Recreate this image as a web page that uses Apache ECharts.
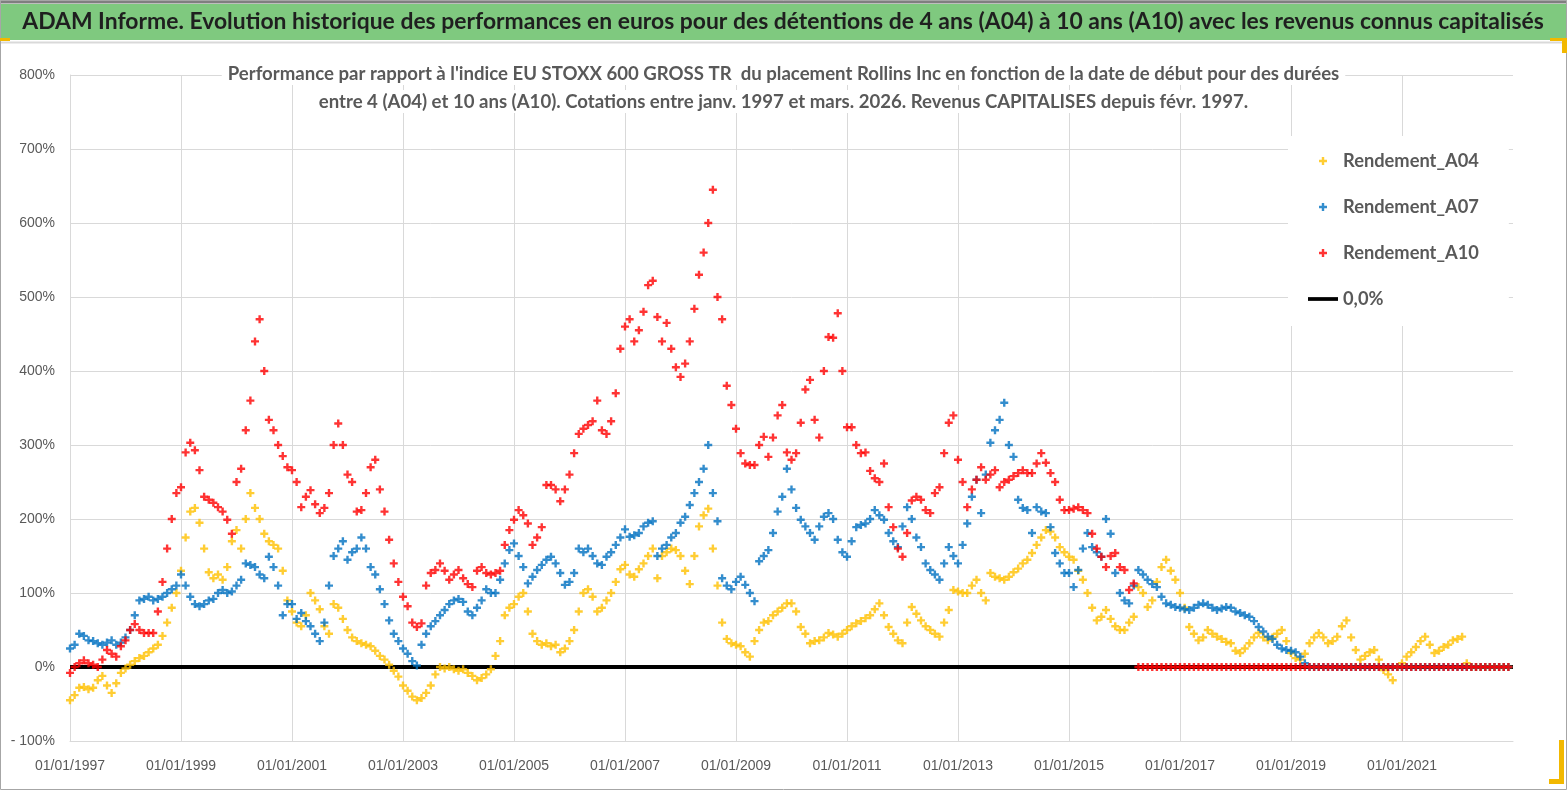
<!DOCTYPE html>
<html><head><meta charset="utf-8">
<script src="https://cdn.jsdelivr.net/npm/echarts@6/dist/echarts.min.js"></script>
<style>html,body{margin:0;padding:0;background:#fff}#c{width:1567px;height:790px}</style>
</head><body><div id="c"></div>
<script>
// Monthly values (%), first value = January 1997, last = December 2022
const startYear = 1997;
const a04 = [
 -45,-38,-28,-27,-30,-28,-18,-12,-25,-35,-22,-8,
 -2,3,8,12,15,20,25,30,42,60,80,100,
 130,175,210,215,195,160,128,120,125,118,135,170,
 185,160,200,235,215,200,180,170,165,160,130,90,
 75,60,55,70,100,90,78,55,45,85,80,65,
 50,40,35,32,30,28,22,15,10,3,-5,-13,
 -25,-32,-40,-45,-42,-35,-25,-10,0,-2,0,-3,
 -5,-3,-8,-12,-18,-15,-10,-3,15,35,70,80,
 85,95,100,75,45,35,30,32,28,30,20,25,
 35,50,75,100,105,95,75,80,90,100,115,132,
 138,125,122,132,140,150,160,120,150,155,160,158,
 150,130,112,150,190,205,214,160,110,60,38,32,
 30,28,20,14,35,50,60,62,70,75,80,86,
 86,75,54,45,32,35,36,40,46,44,41,45,
 50,55,59,62,66,70,78,86,70,54,45,36,
 32,60,81,72,63,55,50,45,41,60,77,104,
 102,100,100,110,118,100,90,127,122,120,118,122,
 128,133,140,145,154,165,175,185,183,175,162,155,
 149,145,130,118,100,80,63,68,77,65,55,50,
 50,60,68,108,100,81,90,115,135,145,130,118,
 100,80,54,45,36,40,50,45,41,38,34,32,
 22,19,25,32,40,46,40,36,40,45,50,35,
 19,12,10,18,32,40,46,40,32,35,41,55,
 63,40,23,10,15,20,23,10,-4,-10,-18,0,
 5,14,20,27,35,41,30,19,22,27,30,36,
 38,41,5,0,0,0,0,0,0,0,0,0
];
const a07 = [
 25,30,45,42,36,35,32,30,33,36,30,33,
 40,50,70,90,92,95,90,92,95,100,105,110,
 125,110,95,85,82,85,90,92,100,104,100,102,
 110,118,140,138,135,125,120,149,135,110,70,85,
 85,65,73,62,55,45,35,60,110,150,160,170,
 145,155,160,175,160,135,125,105,85,63,45,35,
 25,18,8,2,30,45,55,62,70,77,85,90,
 92,88,75,70,80,90,105,100,100,118,140,158,
 167,150,135,113,122,131,138,145,149,140,127,111,
 115,127,160,155,160,150,140,138,149,155,165,175,
 186,176,178,181,190,195,197,150,160,165,175,181,
 195,203,219,235,250,268,300,235,197,120,110,105,
 115,122,111,100,89,143,150,158,181,210,230,268,
 240,215,199,190,181,172,190,203,208,200,172,155,
 149,170,189,192,194,200,212,205,199,181,170,162,
 190,216,200,175,162,140,131,125,118,140,162,150,
 140,165,194,230,253,208,260,303,320,334,357,300,
 284,226,215,212,181,216,210,208,189,154,140,127,
 127,108,131,160,181,162,155,149,200,180,127,100,
 90,86,110,131,125,118,112,108,95,86,84,81,
 80,78,77,80,84,86,84,80,77,79,81,80,
 75,73,70,68,62,54,48,41,38,30,25,23,
 22,20,14,5,0,0,0,0,0,0,0,0,
 0,0,0,0,0,0,0,0,0,0,0,0,
 0,0,0,0,0,0,0,0,0,0,0,0,
 0,0,0,0,0,0,0,0,0,0,0,0
];
const a10 = [
 -8,0,5,9,5,3,0,10,23,18,14,28,
 36,50,58,50,46,46,46,75,115,160,200,235,
 243,290,303,293,266,230,226,222,216,210,199,180,
 250,268,320,360,440,470,400,334,320,300,285,270,
 266,250,216,230,239,220,208,215,235,300,329,300,
 260,250,210,212,235,270,280,240,210,172,140,115,
 95,82,60,54,59,110,127,131,140,130,118,125,
 131,120,112,108,130,135,127,125,127,130,165,185,
 199,212,205,194,165,175,189,246,246,240,224,240,
 260,289,315,322,327,332,360,320,315,332,370,430,
 460,470,440,455,480,516,522,473,440,465,430,405,
 392,410,440,484,530,560,600,645,500,470,380,354,
 322,289,275,273,273,300,311,284,310,340,354,290,
 280,289,330,375,388,334,310,400,446,445,478,400,
 324,324,300,289,290,265,255,250,275,216,189,160,
 149,181,225,230,226,212,208,235,243,289,330,340,
 280,250,216,240,253,270,253,260,266,243,250,253,
 258,262,266,262,262,275,289,276,262,250,226,212,
 212,214,216,212,208,180,160,149,135,150,154,135,
 131,104,113,0,0,0,0,0,0,0,0,0,
 0,0,0,0,0,0,0,0,0,0,0,0,
 0,0,0,0,0,0,0,0,0,0,0,0,
 0,0,0,0,0,0,0,0,0,0,0,0,
 0,0,0,0,0,0,0,0,0,0,0,0,
 0,0,0,0,0,0,0,0,0,0,0,0,
 0,0,0,0,0,0,0,0,0,0,0,0
];
const zeroLine = [[0,0],[312,0]];
const seriesNames = ['Rendement_A04','Rendement_A07','Rendement_A10','0,0%'];
const mainTitle = "ADAM Informe. Evolution historique des performances en euros pour des détentions de 4 ans (A04) à 10 ans (A10) avec les revenus connus capitalisés";
const subLine1 = "Performance par rapport à l'indice EU STOXX 600 GROSS TR  du placement Rollins Inc en fonction de la date de début pour des durées";
const subLine2 = "entre 4 (A04) et 10 ans (A10). Cotations entre janv. 1997 et mars. 2026. Revenus CAPITALISES depuis févr. 1997.";

const FAM = 'Lato, "Open Sans", "Liberation Sans", sans-serif';
const ctx = document.createElement('canvas').getContext('2d');
function fit(text, weight, target){
  ctx.font = weight + ' 100px ' + FAM;
  return Math.round(100 * target / ctx.measureText(text).width * 10) / 10;
}
const titleSize = fit(mainTitle, 'bold', 1522);
const subSize = fit(subLine1, 'bold', 1112);
const legSize = fit('Rendement_A04', 'bold', 136);

const PLUS = 'path://M2.8,0H5.2V2.8H8V5.2H5.2V8H2.8V5.2H0V2.8H2.8Z';
const pts = arr => arr.map((v,i)=>[i,v]);
const subStyle = {fontFamily:FAM, fontSize:subSize, fontWeight:'bold', color:'#595959'};

const chart = echarts.init(document.getElementById('c'));
chart.setOption({
  animation:false,
  backgroundColor:'#fff',
  title:[
    {text: subLine1, left:'center', top:62, padding:[2,6], backgroundColor:'#fff', textStyle:subStyle},
    {text: subLine2, left:'center', top:90, padding:[2,6], backgroundColor:'#fff', textStyle:subStyle}
  ],
  legend:{
    orient:'vertical', left:1288, top:136, itemGap:28, itemWidth:30, itemHeight:8,
    padding:[16,30,18,20], backgroundColor:'#fff',
    data: [
      {name:'Rendement_A04'},{name:'Rendement_A07'},{name:'Rendement_A10'},
      {name:'0,0%', icon:'path://M0,0H32V4H0Z'}
    ],
    textStyle:{fontFamily:FAM, fontSize:legSize, fontWeight:'bold', color:'#595959'}
  },
  grid:{left:70,right:54,top:75,bottom:49},
  xAxis:{
    type:'value', min:0, max:312, interval:24,
    axisLine:{onZero:false, lineStyle:{color:'#d9d9d9'}},
    axisTick:{show:false},
    splitLine:{show:true, showMaxLine:false, lineStyle:{color:'#d9d9d9', width:1}},
    axisLabel:{showMaxLabel:false, margin:18, fontFamily:'"Liberation Sans", Arial, sans-serif', fontSize:14, color:'#595959',
      formatter: v => (v % 24 === 0 && v < 312) ? '01/01/' + (startYear + v/12) : ''}
  },
  yAxis:{
    type:'value', min:-100, max:800, interval:100,
    axisLine:{show:true, lineStyle:{color:'#d9d9d9'}},
    axisTick:{show:false},
    splitLine:{show:true, lineStyle:{color:'#d9d9d9', width:1}},
    axisLabel:{margin:15, fontFamily:'"Liberation Sans", Arial, sans-serif', fontSize:14, color:'#595959',
      formatter: v => (v < 0 ? '- ' + Math.abs(v) : v) + '%'}
  },
  graphic:[
    {type:'rect', shape:{x:0,y:4,width:1567,height:36}, style:{fill:'#7fc97f'}},
    {type:'line', shape:{x1:0,y1:2,x2:1567,y2:2}, style:{stroke:'#7f7f7f', lineWidth:3}},
    {type:'line', shape:{x1:0,y1:42.5,x2:1567,y2:42.5}, style:{stroke:'#d9d9d9', lineWidth:2}},
    {type:'rect', shape:{x:0.5,y:0.5,width:1566,height:789}, style:{fill:'none', stroke:'#a6a6a6', lineWidth:1}},
    {type:'text', x:783, y:22, style:{text:mainTitle, textAlign:'center', textVerticalAlign:'middle',
      font:'bold ' + titleSize + 'px ' + FAM, fill:'#1f1f1f'}},
    {type:'rect', shape:{x:0,y:38,width:10,height:3}, style:{fill:'#f2b800'}},
    {type:'rect', shape:{x:1550,y:38,width:17,height:3}, style:{fill:'#f2b800'}},
    {type:'rect', shape:{x:1562,y:38,width:5,height:15}, style:{fill:'#f2b800'}},
    {type:'rect', shape:{x:1559,y:740,width:5,height:44}, style:{fill:'#f2b800'}},
    {type:'rect', shape:{x:1549,y:779,width:15,height:5}, style:{fill:'#f2b800'}}
  ],
  series:[
    {name:'0,0%', type:'line', data:zeroLine, symbol:'none', lineStyle:{color:'#000', width:4}, itemStyle:{color:'#000'}, z:1, silent:true},
    {name:'Rendement_A04', type:'scatter', data:pts(a04), symbol:PLUS, symbolSize:8, itemStyle:{color:'#ffc000'}, z:2},
    {name:'Rendement_A07', type:'scatter', data:pts(a07), symbol:PLUS, symbolSize:8, itemStyle:{color:'#0070c0'}, z:3},
    {name:'Rendement_A10', type:'scatter', data:pts(a10), symbol:PLUS, symbolSize:8, itemStyle:{color:'#ff0000'}, z:4}
  ]
});
</script></body></html>
